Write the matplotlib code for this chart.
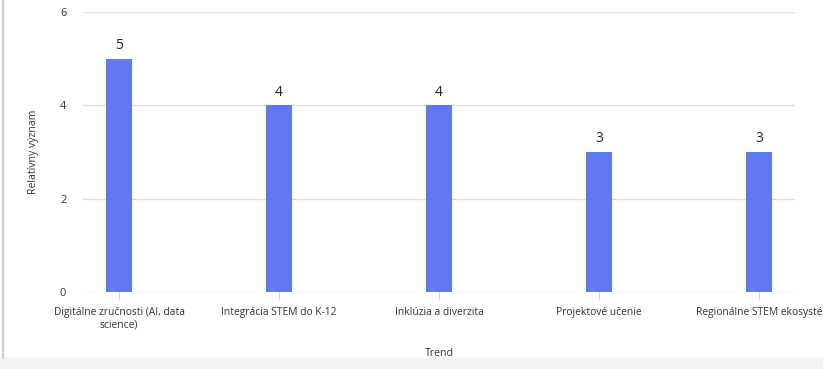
import matplotlib.pyplot as plt
from matplotlib.patches import Rectangle

# data
trends = ['Digitálne zručnosti (AI, data\nscience)', 'Integrácia STEM do K-12',
          'Inklúzia a diverzita', 'Projektové učenie', 'Regionálne STEM ekosysté']
values = [5, 4, 4, 3, 3]
y_ticks = [0, 2, 4, 6]

plt.rcParams['font.family'] = ['Open Sans', 'DejaVu Sans']

fig = plt.figure(figsize=(8.23, 3.69), dpi=100)
ax = fig.add_axes([0.1009, 0.2087, 0.8651, 0.7588])

x = list(range(len(trends)))
bars = ax.bar(x, values, width=0.165, color='#6179F0', zorder=3)
for b, v in zip(bars, values):
    ax.text(b.get_x() + b.get_width() / 2, v + 0.12, str(v), ha='center', va='bottom',
            fontsize=10, color='#222222')

ax.set_xlim(-0.225, 4.225)
ax.set_ylim(0, 6)
ax.set_yticks(y_ticks)
ax.set_xticks(x)
ax.set_xticklabels(trends, fontsize=7.4, color='#333333')
ax.tick_params(axis='y', length=0, pad=12, labelsize=8, labelcolor='#333333')
ax.tick_params(axis='x', length=5, color='#cccccc', pad=6)
ax.grid(axis='y', color='#dddddd', linewidth=1, zorder=0)
for s in ax.spines.values():
    s.set_visible(False)

ax.set_ylabel('Relatívny význam', fontsize=7.6, color='#333333', labelpad=15)
ax.set_xlabel('Trend', fontsize=7.6, color='#333333', labelpad=12)

# window chrome: gray strip at bottom and thin left border
fig.patches.append(Rectangle((0, 0), 1, 0.03, transform=fig.transFigure,
                             color='#f3f3f3', zorder=-1))
fig.patches.append(Rectangle((0.002, 0.03), 0.0012, 0.97, transform=fig.transFigure,
                             color='#d0d0d0', zorder=-1))

fig.savefig('out.png', dpi=100)
